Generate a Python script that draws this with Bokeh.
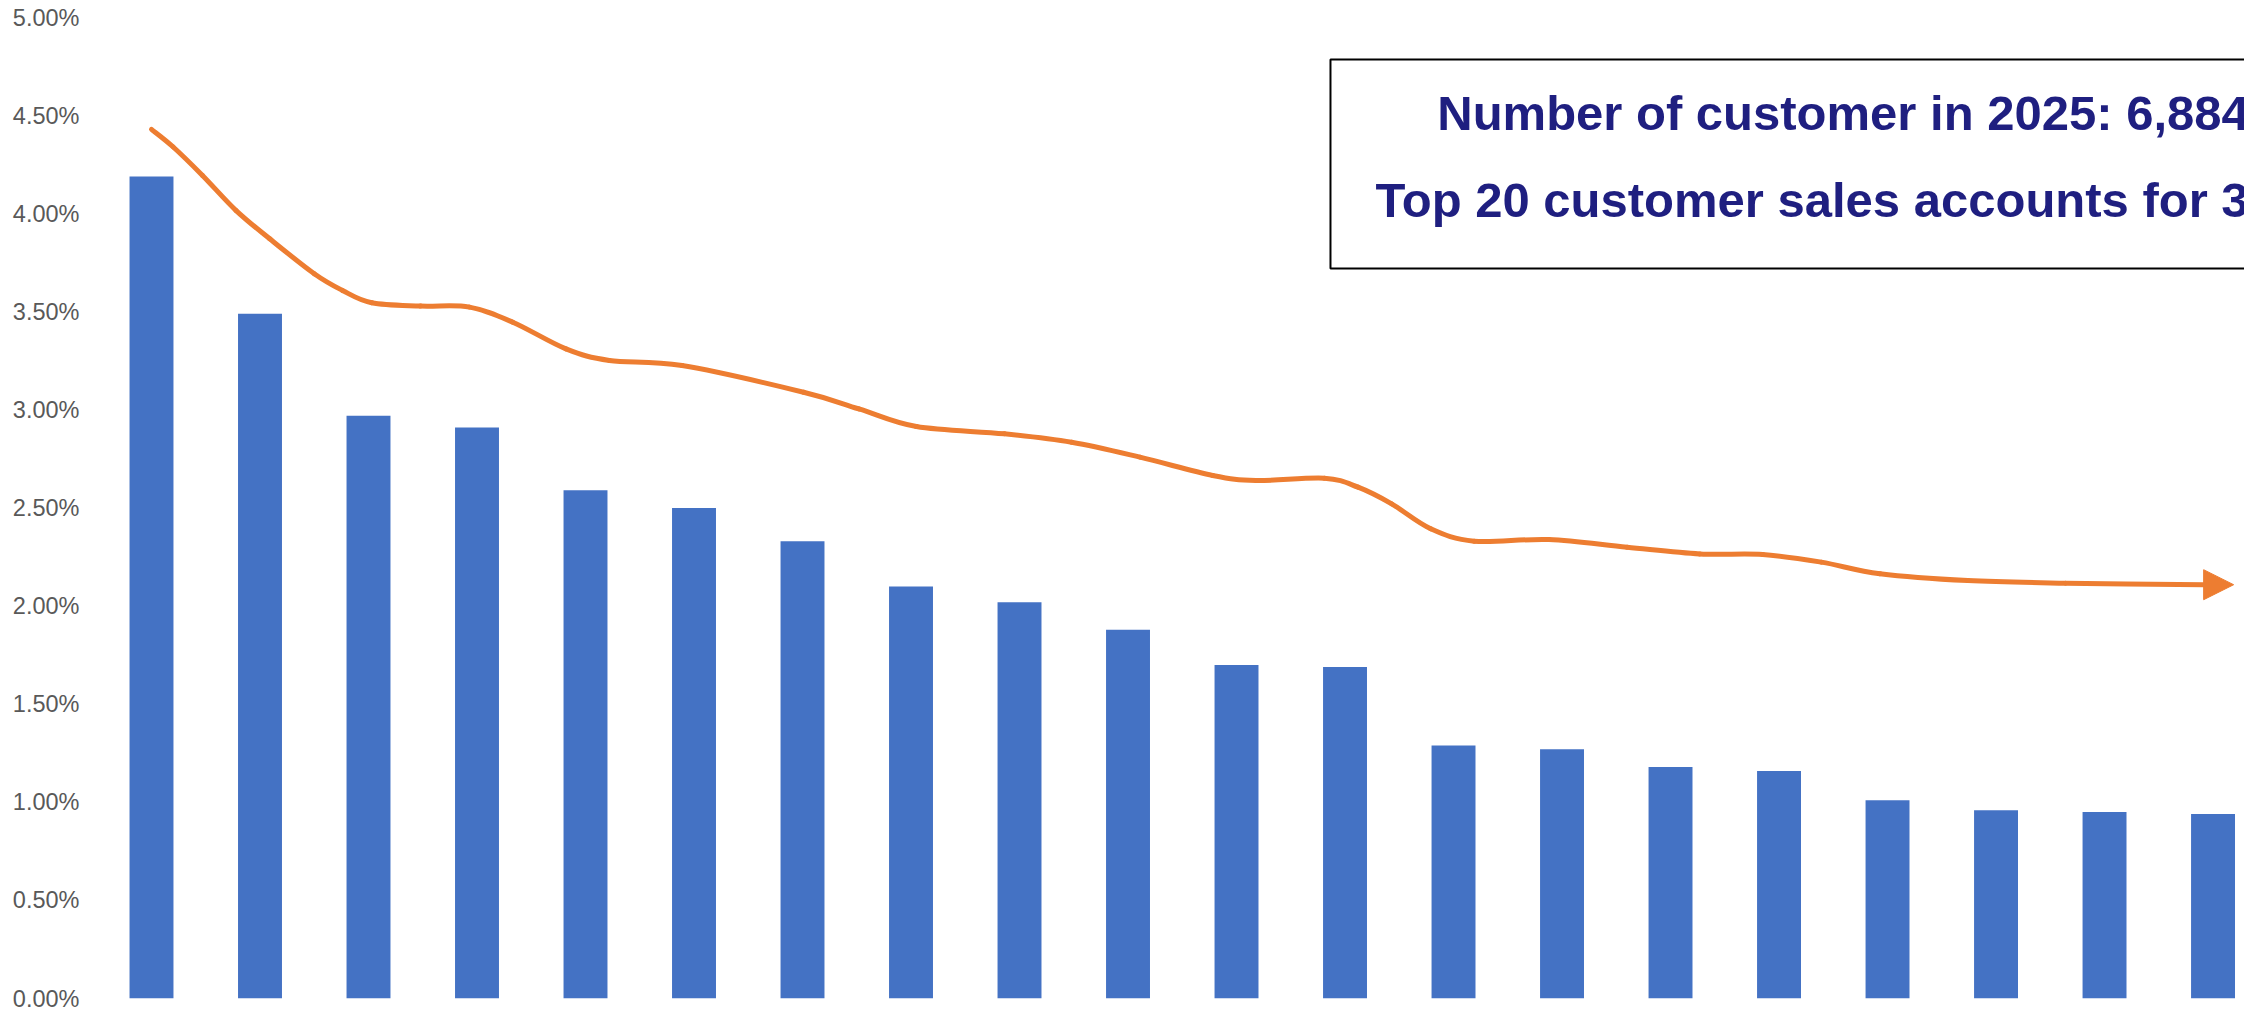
from bokeh.plotting import figure
from bokeh.models import Range1d, FixedTicker, PrintfTickFormatter, Arrow, NormalHead
from bokeh.core.properties import value
from bokeh.embed import file_html
from bokeh.resources import INLINE

# ---- data (percent of sales, top 20 customers) ----
customer_rank = list(range(1, 21))
share_pct = [4.19, 3.49, 2.97, 2.91, 2.59, 2.50, 2.33, 2.10, 2.02, 1.88,
             1.70, 1.69, 1.29, 1.27, 1.18, 1.16, 1.01, 0.96, 0.95, 0.94]

# hand-drawn trend curve (x in bar positions, y in %)
trend_x = [0.0, 0.2, 0.47, 0.78, 1.09, 1.5, 1.76, 2.03, 2.48, 2.93, 3.33, 3.82,
           4.22, 4.89, 6.01, 6.52, 7.05, 7.86, 8.48, 9.11, 9.78, 10.18, 10.81,
           11.12, 11.43, 11.79, 12.19, 12.88, 13.6, 14.27, 14.85, 15.39, 15.93,
           16.74, 17.64, 18.92]
trend_y = [4.43, 4.34, 4.195, 4.016, 3.872, 3.694, 3.609, 3.546, 3.529, 3.524,
           3.447, 3.311, 3.252, 3.226, 3.090, 3.005, 2.915, 2.878, 2.835, 2.759,
           2.666, 2.640, 2.652, 2.606, 2.521, 2.394, 2.331, 2.339, 2.300, 2.266,
           2.263, 2.224, 2.165, 2.130, 2.117, 2.109]
arrow_tip = (19.19, 2.109)

y_ticks = [0, 0.5, 1.0, 1.5, 2.0, 2.5, 3.0, 3.5, 4.0, 4.5, 5.0]

note_lines = ["Number of customer in 2025: 6,884",
              "Top 20 customer sales accounts for 3"]

BLUE = "#4472C4"
ORANGE = "#ED7D31"
NAVY = "#1F1F80"

xs = [r - 1 for r in customer_rank]

p = figure(width=2244, height=1011, output_backend="svg", toolbar_location=None,
           x_range=Range1d(-0.5622, 19.290), y_range=Range1d(0, 5),
           x_axis_location=None,
           min_border_left=90, min_border_right=0, min_border_top=17, min_border_bottom=13)
p.outline_line_color = None
p.xgrid.visible = False
p.ygrid.visible = False
p.background_fill_color = "white"
p.border_fill_color = "white"

p.yaxis.ticker = FixedTicker(ticks=y_ticks)
p.yaxis.formatter = PrintfTickFormatter(format="%.2f%%")
p.yaxis.axis_line_color = None
p.yaxis.major_tick_line_color = None
p.yaxis.minor_tick_line_color = None
p.yaxis.major_tick_out = 0
p.yaxis.major_tick_in = 0
p.yaxis.major_label_standoff = 11
p.yaxis.major_label_text_font = "Liberation Sans"
p.yaxis.major_label_text_font_size = "23.5px"
p.yaxis.major_label_text_color = "#595959"

p.vbar(x=xs, top=share_pct, width=0.405, bottom=0, fill_color=BLUE, line_color=None)

# smooth the drawn trend through the read points (Catmull-Rom -> cubic Bezier)
n = len(trend_x)
def pt(i):
    i = max(0, min(n - 1, i))
    return trend_x[i], trend_y[i]
x0, y0, x1, y1, cx0, cy0, cx1, cy1 = [], [], [], [], [], [], [], []
for i in range(n - 1):
    pa, pb, pc, pd = pt(i - 1), pt(i), pt(i + 1), pt(i + 2)
    x0.append(pb[0]); y0.append(pb[1]); x1.append(pc[0]); y1.append(pc[1])
    cx0.append(pb[0] + (pc[0] - pa[0]) / 6.0); cy0.append(pb[1] + (pc[1] - pa[1]) / 6.0)
    cx1.append(pc[0] - (pd[0] - pb[0]) / 6.0); cy1.append(pc[1] - (pd[1] - pb[1]) / 6.0)
p.bezier(x0=x0, y0=y0, x1=x1, y1=y1, cx0=cx0, cy0=cy0, cx1=cx1, cy1=cy1,
         line_width=5, line_color=ORANGE, line_cap="round")

p.add_layout(Arrow(end=NormalHead(size=30, fill_color=ORANGE, line_color=ORANGE),
                   x_start=trend_x[-1], y_start=trend_y[-1],
                   x_end=arrow_tip[0], y_end=arrow_tip[1],
                   line_color=ORANGE, line_width=5))

# annotation box (extends past the right edge, clipped by the frame)
p.quad(left=[10.866], right=[30], top=[4.786], bottom=[3.721],
       fill_color="white", fill_alpha=1.0, line_color="black", line_width=2)
p.text(x=[11.85, 11.28], y=[4.511, 4.068], text=note_lines,
       text_font=value("Liberation Sans"), text_font_style="bold",
       text_font_size="49px", text_color=NAVY,
       text_align="left", text_baseline="alphabetic")

open("out.html", "w").write(file_html(p, INLINE))
